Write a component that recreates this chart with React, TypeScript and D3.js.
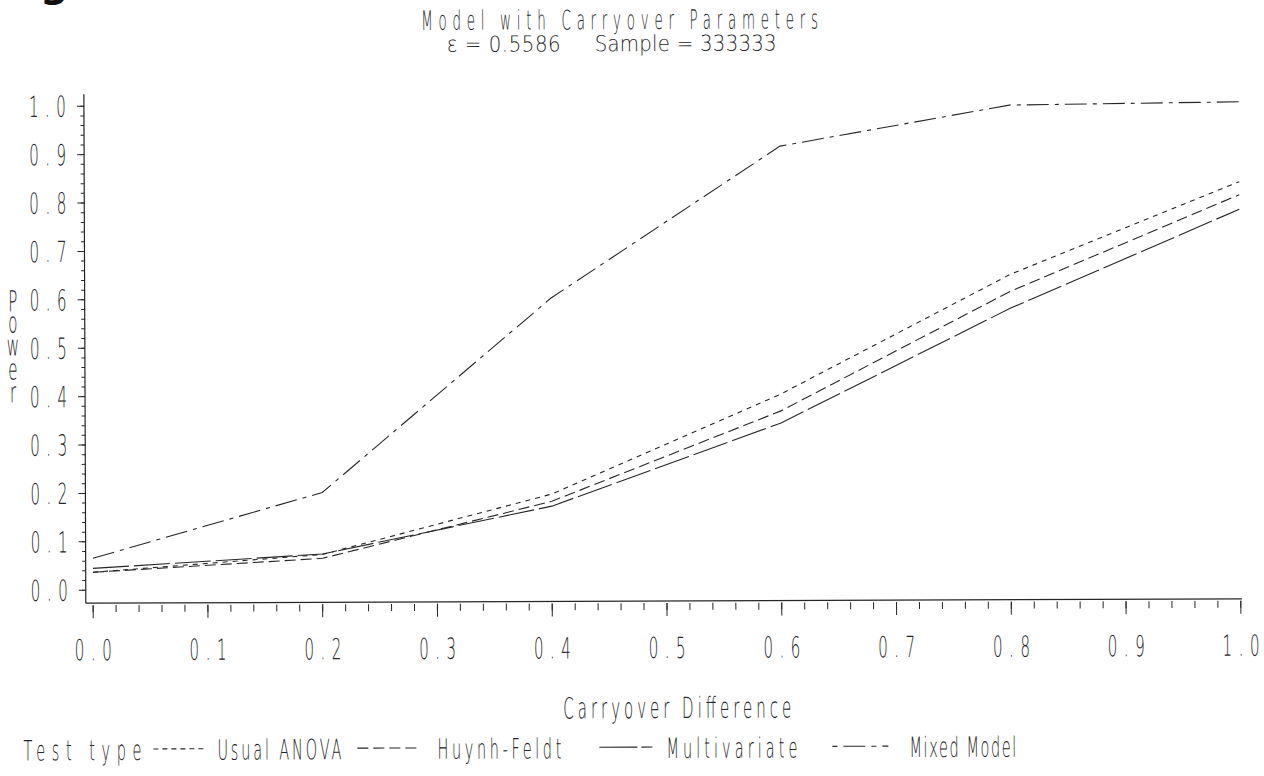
import React from "react";
import * as d3 from "d3";

// carryover difference values where power was computed
const carryover = [0, 0.2, 0.4, 0.6, 0.8, 1.0];
const usualAnova = [0.037, 0.072, 0.195, 0.4, 0.645, 0.835];
const huynhFeldt = [0.037, 0.064, 0.18, 0.365, 0.61, 0.808];
const multivariate = [0.045, 0.073, 0.17, 0.34, 0.575, 0.778];
const mixedModel = [0.066, 0.2, 0.6, 0.912, 0.995, 1.0];

const seriesNames = ["Usual ANOVA", "Huynh-Feldt", "Multivariate", "Mixed Model"];
const xTickLabels = ["0.0", "0.1", "0.2", "0.3", "0.4", "0.5", "0.6", "0.7", "0.8", "0.9", "1.0"];
const yTickLabels = ["0.0", "0.1", "0.2", "0.3", "0.4", "0.5", "0.6", "0.7", "0.8", "0.9", "1.0"];

const W = 1264;
const H = 776;
const FONT = "'DejaVu Sans', 'Liberation Sans', sans-serif";
const INK = "#262626";

const dashes: Record<string, string> = {
  "Usual ANOVA": "5,5",
  "Huynh-Feldt": "11,5",
  "Multivariate": "36,5",
  "Mixed Model": "22,6,4,6",
};
const legendDashes: Record<string, string> = {
  "Usual ANOVA": "5,4",
  "Huynh-Feldt": "11,5",
  "Multivariate": "38,4,11,4",
  "Mixed Model": "5,6,22,6",
};

// legend layout: [sample start, sample end, text start, text end]
const legendPos: Record<string, number[]> = {
  "Usual ANOVA": [152, 205, 216, 340],
  "Huynh-Feldt": [356, 416, 436, 560],
  "Multivariate": [598, 651, 665, 796],
  "Mixed Model": [831, 887, 908, 1015],
};

function Txt(props: any) {
  const { x, y, w, size = 29, sx = 0.52, anchor = "start", fill = INK, children, weight = 200 } = props;
  return (
    <text
      transform={`translate(${x},${y}) scale(${sx},1)`}
      fontSize={size}
      fontFamily={FONT}
      fontWeight={weight}
      textLength={w ? w / sx : undefined}
      lengthAdjust="spacing"
      textAnchor={anchor}
      fill={fill}
    >
      {children}
    </text>
  );
}

export default function App() {
  const x = d3.scaleLinear().domain([0, 1]).range([92.3, 1240]);
  const y = d3.scaleLinear().domain([0, 1]).range([588, 104]);
  const axisY = 601;
  const axisX = 85;

  const series = [usualAnova, huynhFeldt, multivariate, mixedModel];
  const line = d3
    .line<number>()
    .x((_, i) => x(carryover[i]))
    .y((d) => y(d));

  const xMajor = x.ticks(10);
  const xMinor = x.ticks(50);
  const yMajor = y.ticks(10);
  const yMinor = y.ticks(50);

  return (
    <svg width={W} height={H} viewBox={`0 0 ${W} ${H}`} style={{ display: "block", position: "absolute", left: 0, top: 0, background: "#fff" }}>
      <rect width={W} height={H} fill="#fff" />
      <text x={40} y={-4} fontSize={40} fontWeight="bold" fontFamily={FONT} fill="#111">g</text>
      <g transform="rotate(-0.22 662 388)">
        {/* title */}
        <Txt x={621} y={29} w={397} size={27} sx={0.5} anchor="middle">Model with Carryover Parameters</Txt>
        <Txt x={448} y={51} w={114} size={22} sx={0.9}>ε = 0.5586</Txt>
        <Txt x={596} y={51} w={182} size={22} sx={0.9}>Sample = 333333</Txt>

        {/* axes */}
        <line x1={axisX} x2={axisX} y1={92} y2={axisY} stroke={INK} strokeWidth={1.2} />
        <line x1={axisX} x2={1241} y1={axisY} y2={axisY} stroke={INK} strokeWidth={1.2} />

        {yMinor.map((t) => (
          <line key={"ym" + t} x1={axisX - 3.5} x2={axisX} y1={y(t)} y2={y(t)} stroke={INK} strokeWidth={1} />
        ))}
        {yMajor.map((t, i) => (
          <g key={"yM" + t}>
            <line x1={axisX - 7} x2={axisX} y1={y(t)} y2={y(t)} stroke={INK} strokeWidth={1} />
            <Txt x={67} y={y(t) + 10.5} w={37} anchor="end">{yTickLabels[i]}</Txt>
          </g>
        ))}
        {xMinor.map((t) => (
          <line key={"xm" + t} x1={x(t)} x2={x(t)} y1={axisY + 2} y2={axisY + 9} stroke={INK} strokeWidth={1} />
        ))}
        {xMajor.map((t, i) => (
          <g key={"xM" + t}>
            <line x1={x(t)} x2={x(t)} y1={axisY + 2} y2={axisY + 15} stroke={INK} strokeWidth={1} />
            <Txt x={x(t)} y={658} w={37} anchor="middle">{xTickLabels[i]}</Txt>
          </g>
        ))}

        {/* axis titles */}
        {"Power".split("").map((c, i) => (
          <Txt key={"p" + i} x={13} y={[309, 330, 353, 377, 400][i]} anchor="middle">{c}</Txt>
        ))}
        <Txt x={676} y={718} w={228} anchor="middle">Carryover Difference</Txt>

        {/* series */}
        {series.map((s, i) => (
          <path
            key={seriesNames[i]}
            d={line(s) || ""}
            fill="none"
            stroke={INK}
            strokeWidth={1.1}
            strokeDasharray={dashes[seriesNames[i]]}
          />
        ))}

        {/* legend */}
        <Txt x={22} y={758} w={118} size={28}>Test type</Txt>
        {seriesNames.map((n) => {
          const p = legendPos[n];
          return (
            <g key={"lg" + n}>
              <line x1={p[0]} x2={p[1]} y1={747} y2={747} stroke={INK} strokeWidth={1.1} strokeDasharray={legendDashes[n]} />
              <Txt x={p[2]} y={758} w={p[3] - p[2]} size={28}>{n}</Txt>
            </g>
          );
        })}
      </g>
    </svg>
  );
}
